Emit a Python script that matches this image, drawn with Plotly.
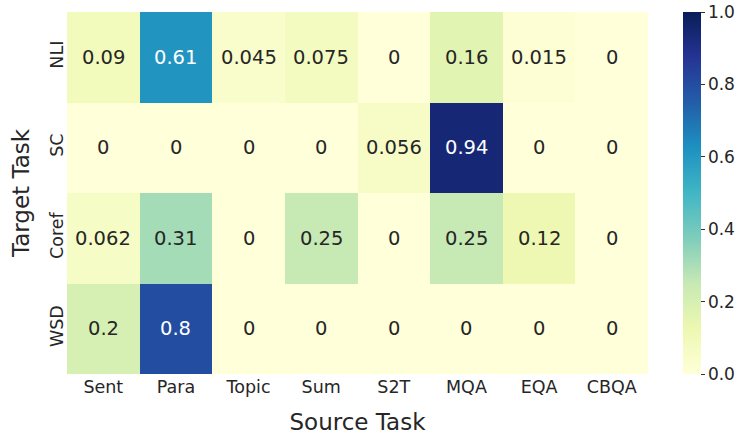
import plotly.graph_objects as go

# Transfer heatmap: target task (rows) vs source task (columns)
source_tasks = ['Sent', 'Para', 'Topic', 'Sum', 'S2T', 'MQA', 'EQA', 'CBQA']
target_tasks = ['NLI', 'SC', 'Coref', 'WSD']

nli = [0.09, 0.61, 0.045, 0.075, 0, 0.16, 0.015, 0]
sc = [0, 0, 0, 0, 0.056, 0.94, 0, 0]
coref = [0.062, 0.31, 0, 0.25, 0, 0.25, 0.12, 0]
wsd = [0.2, 0.8, 0, 0, 0, 0, 0, 0]

z = [nli, sc, coref, wsd]

cbar_ticks = [0, 0.2, 0.4, 0.6, 0.8, 1.0]
cbar_labels = ['0.0', '0.2', '0.4', '0.6', '0.8', '1.0']

# colorbrewer YlGnBu (same as matplotlib/seaborn)
ylgnbu = ['#ffffd9', '#edf8b1', '#c7e9b4', '#7fcdbb', '#41b6c4',
          '#1d91c0', '#225ea8', '#253494', '#081d58']
colorscale = [[i / 8, c] for i, c in enumerate(ylgnbu)]

fig = go.Figure()
fig.add_trace(go.Heatmap(
    z=z, x=source_tasks, y=target_tasks,
    zmin=0, zmax=1, colorscale=colorscale,
    colorbar=dict(
        x=1.061, xanchor='left', y=0.5, yanchor='middle',
        len=1.0, thickness=18, outlinewidth=0, xpad=0, ypad=0,
        tickvals=cbar_ticks, ticktext=cbar_labels,
        ticks='outside', ticklen=4, tickcolor='#333',
        ticklabeloverflow='allow',
        tickfont=dict(size=17, color='#262626'),
    ),
    hoverinfo='skip',
))

# cell labels, white on dark cells
for i, row in enumerate(z):
    for j, v in enumerate(row):
        fig.add_annotation(
            x=source_tasks[j], y=target_tasks[i], text='%g' % v,
            showarrow=False,
            font=dict(size=19.5, color='white' if v > 0.5 else '#262626'),
        )

fig.update_layout(
    width=748, height=443,
    margin=dict(l=67, r=94, t=12, b=67),
    paper_bgcolor='white', plot_bgcolor='white',
    font=dict(family='DejaVu Sans', color='#262626'),
    xaxis=dict(title=dict(text='Source Task', font=dict(size=23), standoff=18),
               tickfont=dict(size=17.5), showgrid=False, zeroline=False,
               ticks=''),
    yaxis=dict(title=dict(text='Target Task', font=dict(size=23), standoff=10),
               tickfont=dict(size=17.5), tickangle=-90, autorange='reversed',
               showgrid=False, zeroline=False, ticks=''),
)

# drop the default 8px body margin so the figure fills the window
fig.write_html('out.html', config={'displayModeBar': False},
               post_script="document.body.style.margin='0';")
